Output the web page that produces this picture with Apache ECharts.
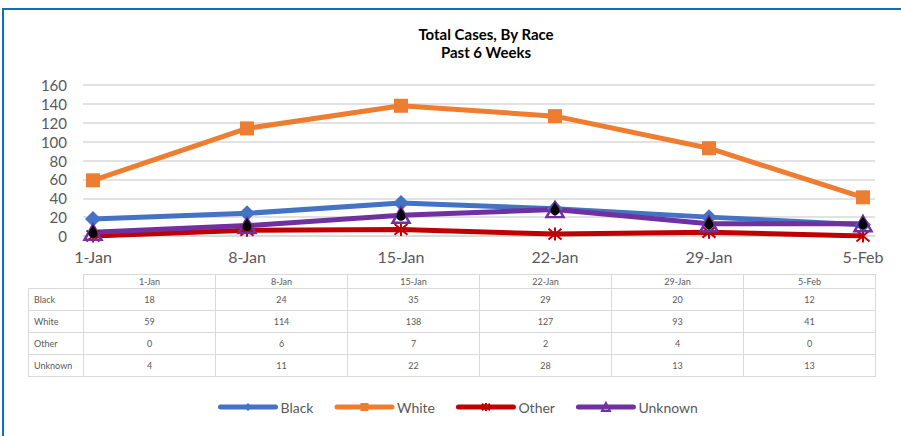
<!DOCTYPE html>
<html>
<head>
<meta charset="utf-8">
<script src="https://cdn.jsdelivr.net/npm/echarts@6/dist/echarts.min.js"></script>
<style>
body{margin:0;background:#fff;overflow:hidden;}
#frame{position:absolute;left:2px;top:8px;width:940px;height:460px;border-left:2px solid #0b6fc4;border-top:2px solid #0b6fc4;}
#main{position:absolute;left:0;top:0;width:901px;height:436px;}
#tbl{position:absolute;left:28px;top:274px;border-collapse:collapse;font-family:Lato,"Open Sans",sans-serif;font-size:9px;color:#595959;table-layout:fixed;}
#tbl td{border:1.5px solid #d9d9d9;text-align:center;padding:0;}
#tbl tr.hd td{height:13px;line-height:13px;}
#tbl tr.rw td{height:21px;}
#tbl td.nm{text-align:left;padding-left:5px;width:49px;}
#tbl td.blank{border-top:none;border-left:none;}
</style>
</head>
<body>
<div id="frame"></div>
<div id="main"></div>
<table id="tbl"></table>
<script>
var weeks = ['1-Jan','8-Jan','15-Jan','22-Jan','29-Jan','5-Feb'];
var black = [18,24,35,29,20,12];
var white = [59,114,138,127,93,41];
var other = [0,6,7,2,4,0];
var unknown = [4,11,22,28,13,13];
var yTicks = [0,20,40,60,80,100,120,140,160];

var rows = [['Black',black],['White',white],['Other',other],['Unknown',unknown]];

// data table under the chart
var tbl = document.getElementById('tbl');
var html = '<tr class="hd"><td class="nm blank"></td>';
for (var i=0;i<weeks.length;i++) html += '<td style="width:131px">'+weeks[i]+'</td>';
html += '</tr>';
for (var r=0;r<rows.length;r++){
    html += '<tr class="rw"><td class="nm">'+rows[r][0]+'</td>';
    for (var j=0;j<rows[r][1].length;j++) html += '<td>'+rows[r][1][j]+'</td>';
    html += '</tr>';
}
tbl.innerHTML = html;

function pts(arr){
    var out=[];
    for (var i=0;i<arr.length;i++) out.push([i,arr[i]]);
    return out;
}

var asterisk = 'path://M0,0 L10,10 M10,0 L0,10 M5,-1 L5,11';
var drop = 'path://M5,0 C6,3 10,7 10,10 A5,5 0 1 1 0,10 C0,7 4,3 5,0 Z';
var font = 'Lato, "Open Sans", sans-serif';

var chart = echarts.init(document.getElementById('main'), null, {renderer:'svg'});
var option = {
    animation:false,
    title:{
        text:'Total Cases, By Race\nPast 6 Weeks',
        left:486, top:25, textAlign:'center', padding:0,
        textStyle:{fontSize:15,fontWeight:'bold',color:'#000',lineHeight:18,fontFamily:font}
    },
    grid:{left:83,right:26,top:85,bottom:200},
    xAxis:{
        type:'value', min:-0.065, max:5.078,
        axisLine:{show:true,lineStyle:{color:'#d9d9d9',width:1.5}},
        axisTick:{show:false},
        splitLine:{show:false},
        axisLabel:{
            customValues:[0,1,2,3,4,5],
            margin:12,
            fontSize:16,color:'#595959',fontFamily:font,
            formatter:function(v){ return weeks[Math.round(v)]; }
        }
    },
    yAxis:{
        type:'value', min:yTicks[0], max:yTicks[yTicks.length-1], interval:20,
        axisLine:{show:false}, axisTick:{show:false},
        splitLine:{lineStyle:{color:'#d9d9d9',width:1.5}},
        axisLabel:{margin:16,fontSize:15,color:'#595959',fontFamily:font}
    },
    legend:{
        data:['Black','White','Other','Unknown'],
        left:218, top:400, padding:0,
        itemWidth:55, itemHeight:10, itemGap:21,
        lineStyle:{width:5,cap:'round'},
        textStyle:{fontSize:14,color:'#595959',fontFamily:font}
    },
    series:[
        {name:'Black',type:'line',data:pts(black),color:'#4472C4',
         lineStyle:{width:5,color:'#4472C4'},symbol:'diamond',symbolSize:16,itemStyle:{color:'#4472C4'}},
        {name:'White',type:'line',data:pts(white),color:'#ED7D31',
         lineStyle:{width:5,color:'#ED7D31'},symbol:'rect',symbolSize:14,itemStyle:{color:'#ED7D31'}},
        {name:'Other',type:'line',data:pts(other),color:'#C00000',
         lineStyle:{width:5,color:'#C00000'},symbol:asterisk,symbolSize:13,
         itemStyle:{color:'#C00000',borderColor:'#C00000',borderWidth:2}},
        {name:'Unknown',type:'line',data:pts(unknown),color:'#7030A0',
         lineStyle:{width:5,color:'#7030A0'},symbol:'triangle',symbolSize:[17,15],
         itemStyle:{color:'rgba(255,255,255,0)',borderColor:'#7030A0',borderWidth:2.5}},
        {name:'Unknown',type:'line',data:pts(unknown),
         lineStyle:{width:0},symbol:drop,symbolSize:[9,13],symbolOffset:[0,-1],
         itemStyle:{color:'#000'},z:5}
    ]
};
chart.setOption(option);
</script>
</body>
</html>
